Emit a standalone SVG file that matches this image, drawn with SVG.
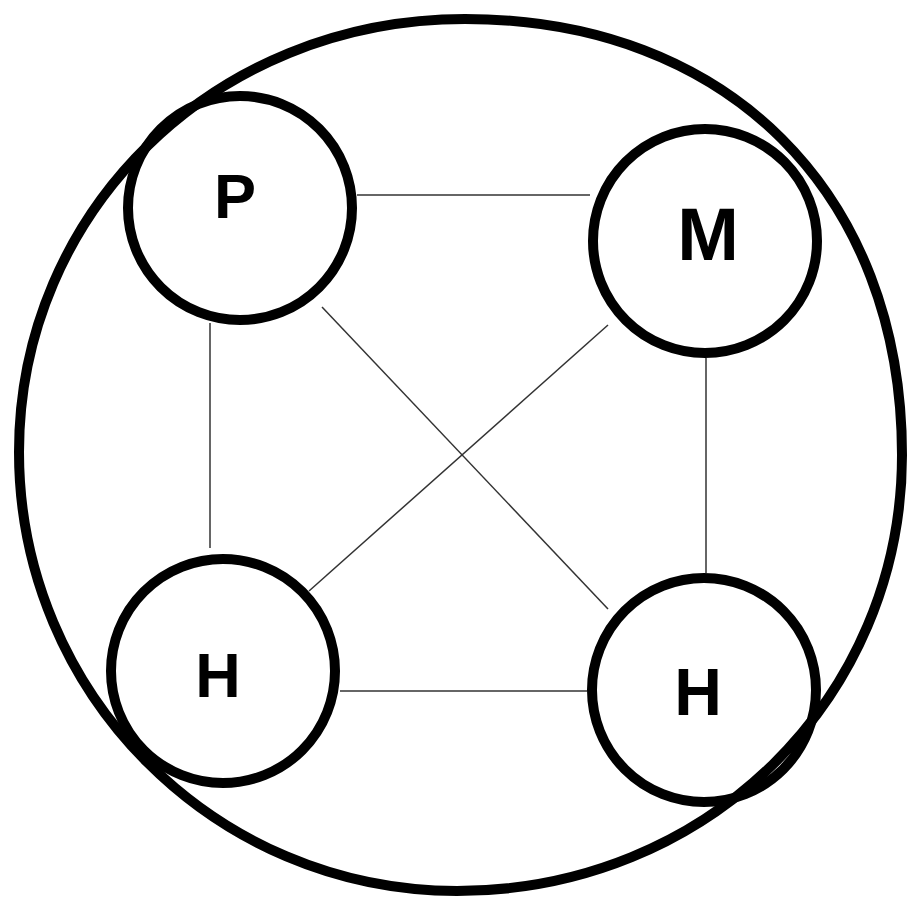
<svg xmlns="http://www.w3.org/2000/svg" width="907" height="899" viewBox="0 0 907 899">
<style>
.big{fill:none;stroke:#000;stroke-width:10}
.node{fill:none;stroke:#000;stroke-width:10}
.edge{stroke:#333;stroke-width:1.5;fill:none}
.lbl{font-family:"Liberation Sans",Arial,sans-serif;font-weight:bold;fill:#000;text-anchor:middle}
</style>
<rect width="907" height="899" fill="#fff"/>
<path id="outer" class="big" d="M465,19 C727,19 902,193 902,455 C902,699 706,891 457,891 C215,891 19,694 19,452 C19,213 213,19 465,19 Z"/>
<g id="connectors">
<line class="edge" x1="357" y1="195" x2="590" y2="195"/>
<line class="edge" x1="210" y1="323" x2="210" y2="548"/>
<line class="edge" x1="706" y1="358" x2="706" y2="573"/>
<line class="edge" x1="340" y1="691" x2="587" y2="691"/>
<line class="edge" x1="322" y1="307" x2="608" y2="609"/>
<line class="edge" x1="608" y1="325" x2="309" y2="591"/>
</g>
<g id="node-P">
<circle class="node" cx="240" cy="208" r="112"/>
<text class="lbl" x="235" y="218" font-size="63">P</text>
</g>
<g id="node-M">
<circle class="node" cx="705" cy="241" r="112"/>
<text class="lbl" x="708" y="260" font-size="74">M</text>
</g>
<g id="node-H1">
<circle class="node" cx="223" cy="671" r="112"/>
<text class="lbl" x="218" y="697" font-size="63">H</text>
</g>
<g id="node-H2">
<circle class="node" cx="704" cy="690" r="112"/>
<text class="lbl" x="698" y="715" font-size="66">H</text>
</g>
</svg>
